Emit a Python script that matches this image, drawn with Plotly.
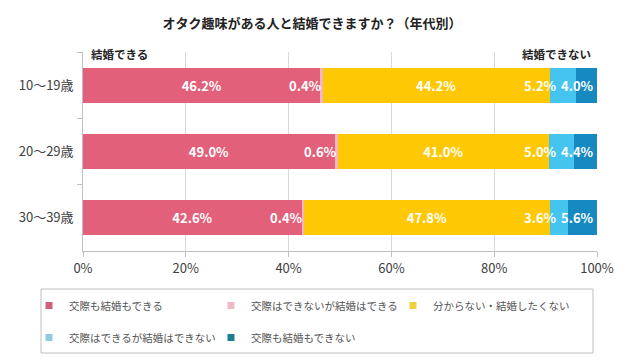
import plotly.graph_objects as go

categories = ["10～19歳", "20～29歳", "30～39歳"]
series_names = ["交際も結婚もできる", "交際はできないが結婚はできる", "分からない・結婚したくない",
                "交際はできるが結婚はできない", "交際も結婚もできない"]
s1 = [46.2, 49.0, 42.6]
s2 = [0.4, 0.6, 0.4]
s3 = [44.2, 41.0, 47.8]
s4 = [5.2, 5.0, 3.6]
s5 = [4.0, 4.4, 5.6]
x_ticks = [0, 20, 40, 60, 80, 100]
x_ticktext = ["0%", "20%", "40%", "60%", "80%", "100%"]

colors = ["#E2607A", "#F0B6C4", "#FFC805", "#45C4EF", "#1689C1"]
legend_colors = ["#D2607A", "#EDBAC6", "#F2CF3C", "#8CCBE0", "#1A7E93"]
series = [s1, s2, s3, s4, s5]

# page body has an 8px default margin; figure is sized/offset to compensate
OFF = 8
W, H = 626 - OFF, 361 - OFF
PL, PT, PW, PH = 83 - OFF, 52 - OFF, 514, 199

FONT = "Noto Sans CJK JP"
LBL = dict(color="white", size=13, family=FONT, weight=600)
fig = go.Figure()

for i, (name, vals) in enumerate(zip(series_names, series)):
    show_text = i in (0, 2)
    fig.add_trace(go.Bar(
        y=categories, x=vals, name=name, orientation="h",
        marker=dict(color=colors[i], line=dict(width=0)),
        text=[f"{v:.1f}%" for v in vals] if show_text else None,
        textposition="inside" if show_text else "none",
        insidetextanchor="middle",
        textfont=LBL,
        showlegend=False, hoverinfo="skip",
    ))

# legend entries (two rows)
for i, name in enumerate(series_names):
    fig.add_trace(go.Scatter(
        x=[None], y=[None], mode="markers", name=name,
        marker=dict(symbol="square", size=7, color=legend_colors[i]),
        legend="legend" if i < 3 else "legend2",
    ))

# small-segment labels
for j, cat in enumerate(categories):
    fig.add_annotation(x=s1[j] + s2[j], y=cat, text=f"{s2[j]:.1f}%", xanchor="right",
                       showarrow=False, xshift=1, font=LBL)
    fig.add_annotation(x=100, y=cat, text=f"{s5[j]:.1f}%", xanchor="right",
                       showarrow=False, xshift=-1, font=LBL)
    fig.add_annotation(x=100, y=cat, text=f"{s4[j]:.1f}%", xanchor="right",
                       showarrow=False, xshift=-38, font=LBL)

fig.add_annotation(x=0, y=1, xref="paper", yref="paper", text="<b>結婚できる</b>",
                   xanchor="left", yanchor="middle", xshift=6, yshift=-2, showarrow=False,
                   font=dict(color="#222222", size=11.5, family=FONT))
fig.add_annotation(x=1, y=1, xref="paper", yref="paper", text="<b>結婚できない</b>",
                   xanchor="right", yanchor="middle", xshift=-4, yshift=-2, showarrow=False,
                   font=dict(color="#222222", size=11.5, family=FONT))

# legend box
fig.add_shape(type="rect", xref="paper", yref="paper",
              x0=(41 - 83) / PW, x1=(593 - 83) / PW,
              y0=-(353 - 251) / PH, y1=-(289 - 251) / PH,
              line=dict(color="#BFBFBF", width=1), fillcolor="rgba(0,0,0,0)")

LEG_X = (29 - 83) / PW
LEG_FONT = dict(size=10.5, color="#555555", family=FONT)
fig.update_layout(
    width=W, height=H,
    margin=dict(l=PL, r=W - PL - PW, t=PT, b=H - PT - PH, autoexpand=False),
    barmode="stack", bargap=0.47,
    paper_bgcolor="white", plot_bgcolor="white",
    font=dict(family=FONT, color="#404040"),
    title=dict(text="<b>オタク趣味がある人と結婚できますか？（年代別）</b>",
               x=(312 - OFF) / W, xanchor="center", y=1 - (23 - OFF) / H, yanchor="middle",
               xref="container", yref="container",
               font=dict(size=13, color="#222222", family=FONT)),
    xaxis=dict(range=[0, 100], tickvals=x_ticks, ticktext=x_ticktext,
               showgrid=True, gridcolor="#D9D9D9", gridwidth=1,
               showline=True, linecolor="#BFBFBF", linewidth=1,
               ticks="outside", ticklen=5, tickcolor="#BFBFBF", automargin=False,
               tickfont=dict(size=13, color="#404040"), zeroline=False, fixedrange=True),
    yaxis=dict(categoryorder="array", categoryarray=categories, autorange="reversed",
               showline=True, linecolor="#BFBFBF", linewidth=1, automargin=False,
               ticks="outside", ticklen=5, tickcolor="#BFBFBF", tickson="boundaries",
               showgrid=False, tickfont=dict(size=13, color="#404040"), ticksuffix="  "),
    legend=dict(orientation="h", x=LEG_X, y=-(291 - 251) / PH, traceorder="normal",
                xanchor="left", yanchor="top", entrywidth=137,
                font=LEG_FONT, itemwidth=30, bgcolor="rgba(0,0,0,0)"),
    legend2=dict(orientation="h", x=LEG_X, y=-(323 - 251) / PH, traceorder="normal",
                 xanchor="left", yanchor="top", entrywidth=137,
                 font=LEG_FONT, itemwidth=30, bgcolor="rgba(0,0,0,0)"),
)

fig.write_html("out.html")
